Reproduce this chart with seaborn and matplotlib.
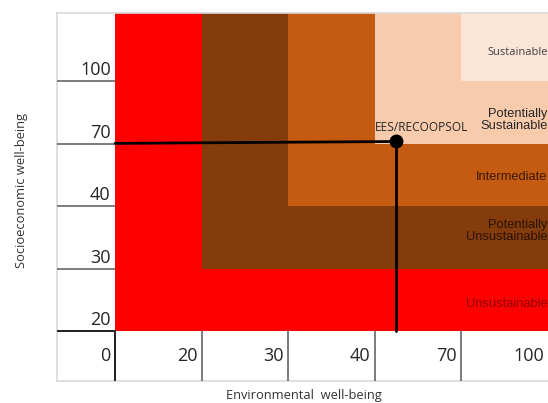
import numpy as np
import pandas as pd
import seaborn as sns
import matplotlib.pyplot as plt

# scale values (ordinal, equally spaced on the chart)
x_values = [0, 20, 30, 40, 70, 100]
y_values = [20, 30, 40, 70, 100]

# zones, from outer to inner (each starts one step further up/right)
zone_names = ['Unsustainable', 'Potentially\nUnsustainable', 'Intermediate',
              'Potentially\nSustainable', 'Sustainable']
zone_colors = ['#FF0000', '#843C0C', '#C55A11', '#F8CBAD', '#FBE5D6']
zone_text_colors = ['#8E0000', '#2A1200', '#3A1A05', '#262626', '#404040']

# the assessed case
case_name = 'EES/RECOOPSOL'
case_env = 47.5
case_soc = 71.0

sns.set_style('white')
fig = plt.figure(figsize=(5.48, 4.03), dpi=100)
ax = fig.add_axes([57 / 548, 22 / 403, 491 / 548, 368 / 403])

xi = np.arange(len(x_values))
yi = np.arange(len(y_values))
x_top = len(x_values) - 1
y_top = 5.09
ax.set_xlim(-0.67, x_top)
ax.set_ylim(-0.8, y_top)

# nested zones
for i, c in enumerate(zone_colors):
    ax.bar(i, y_top - i, width=x_top - i, bottom=i, align='edge',
           color=c, linewidth=0)

label_y = [0.43, 1.6, 2.47, 3.37, 4.45]
for name, tc, ly, fam, fs in zip(zone_names, zone_text_colors, label_y,
                                 ['Liberation Sans'] * 4 + ['Open Sans'],
                                 [9.3, 9.3, 9.3, 9.3, 8]):
    ax.text(4.995, ly, name, ha='right', va='center', color=tc, fontsize=fs,
            family=fam, linespacing=1.0)

# table lines in the label row / column
for i in yi:
    ax.plot([-0.67, 0], [i, i], color='#595959', lw=1.1, zorder=3)
for i in xi[:-1]:
    ax.plot([i, i], [-0.8, 0], color='#595959', lw=1.1, zorder=3)
ax.plot([-0.67, 0], [0, 0], color='#222222', lw=1.4, zorder=3)
ax.plot([0, 0], [-0.8, 0], color='#222222', lw=1.4, zorder=3)

# tick labels as table cells
for i, v in zip(yi, y_values):
    ax.text(-0.05, i + 0.03, str(v), ha='right', va='bottom', fontsize=13,
            family='Open Sans', color='#262626')
for i, v in zip(xi, x_values):
    ax.text(i - 0.05, -0.4, str(v), ha='right', va='center', fontsize=13,
            family='Open Sans', color='#262626')

# position of the case
px = np.interp(case_env, x_values, xi)
py = np.interp(case_soc, y_values, yi)
ax.plot([0, px], [py - 0.03, py], color='black', lw=2, zorder=4)
ax.plot([px, px], [0, py], color='black', lw=2, zorder=4)
pt = pd.DataFrame({'x': [px], 'y': [py]})
sns.scatterplot(data=pt, x='x', y='y', ax=ax, s=100, color='black',
                marker='o', zorder=5, linewidth=0)
ax.text(px + 0.29, py + 0.22, case_name, ha='center', va='center',
        fontsize=8.6, family='Open Sans', color='#262626')

ax.set_xticks([])
ax.set_yticks([])
ax.set_xlabel('')
ax.set_ylabel('')
for s in ['top', 'left', 'bottom']:
    ax.spines[s].set_color('#D9D9D9')
    ax.spines[s].set_linewidth(1.2)
ax.spines['right'].set_visible(False)

fig.text(22 / 548, 1 - 191 / 403, 'Socioeconomic well-being', rotation=90,
         ha='center', va='center', fontsize=9.3, family='Open Sans', color='#333333')
fig.text(304 / 548, 1 - 395 / 403, 'Environmental  well-being',
         ha='center', va='center', fontsize=9.3, family='Open Sans', color='#333333')

fig.savefig('out.png', dpi=100)
